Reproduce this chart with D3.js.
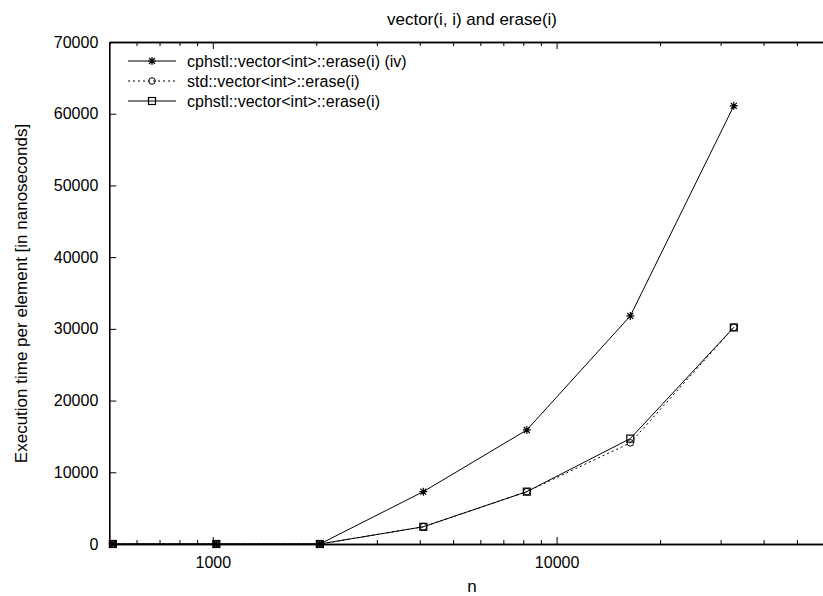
<!DOCTYPE html>
<html>
<head>
<meta charset="utf-8">
<script src="https://cdn.jsdelivr.net/npm/d3@7"></script>
<style>
  body { margin: 0; background: #fff; }
  text { font-family: "Liberation Sans", Arial, sans-serif; font-size: 16px; fill: #000; }
</style>
</head>
<body>
<script>
// values
const nValues = [512, 1024, 2048, 4096, 8192, 16384, 32768];
const cphstlIv = [0, 0, 0, 7300, 15900, 31800, 61100];
const stdErase = [0, 0, 0, 2400, 7300, 14100, 30200];
const cphstlErase = [0, 0, 0, 2400, 7300, 14700, 30200];
const seriesNames = ["cphstl::vector<int>::erase(i) (iv)", "std::vector<int>::erase(i)", "cphstl::vector<int>::erase(i)"];
const xMajorTicks = [1000, 10000];
const xMinorTicks = [500, 600, 700, 800, 900, 2000, 3000, 4000, 5000, 6000, 7000, 8000, 9000, 20000, 30000, 40000, 50000, 60000];
const yTicks = [0, 10000, 20000, 30000, 40000, 50000, 60000, 70000];

const width = 823, height = 596;
const svg = d3.select("body").append("svg")
    .attr("width", width)
    .attr("height", height);

const x = d3.scaleLog().domain([500, 65536]).range([109.3, 837.3]);
const y = d3.scaleLinear().domain([0, 70000]).range([544, 42]);

// bottom axis
const bottomAxis = svg.append("g").attr("transform", `translate(0,${y(0)})`);
bottomAxis.call(d3.axisBottom(x).tickValues(xMinorTicks).tickFormat("").tickSizeInner(-4).tickSizeOuter(0));
bottomAxis.append("g").call(d3.axisBottom(x).tickValues(xMajorTicks).tickFormat(d3.format("d")).tickSizeInner(-7).tickSizeOuter(0).tickPadding(13));

// top axis (mirror ticks)
const topAxis = svg.append("g").attr("transform", `translate(0,${y(70000)})`);
topAxis.call(d3.axisTop(x).tickValues(xMinorTicks).tickFormat("").tickSizeInner(-4).tickSizeOuter(0));
topAxis.append("g").call(d3.axisTop(x).tickValues(xMajorTicks).tickFormat("").tickSizeInner(-7).tickSizeOuter(0));

// left axis
const leftAxis = svg.append("g").attr("transform", `translate(${x(500)},0)`);
leftAxis.call(d3.axisLeft(y).tickValues(yTicks).tickFormat(d3.format("d")).tickSizeInner(-7).tickSizeOuter(0).tickPadding(11));

svg.selectAll(".domain").attr("stroke", "#000").attr("stroke-width", 1.6);
svg.selectAll(".tick line").attr("stroke", "#000").attr("stroke-width", 1);
svg.selectAll(".tick text").style("font-size", "16px").attr("font-family", null);

// titles
svg.append("text")
    .attr("x", 472).attr("y", 25)
    .attr("text-anchor", "middle")
    .style("font-size", "17px")
    .text("vector(i, i) and erase(i)");
svg.append("text")
    .attr("x", 472).attr("y", 592)
    .attr("text-anchor", "middle")
    .style("font-size", "17px")
    .text("n");
svg.append("text")
    .attr("transform", "translate(27,293.5) rotate(-90)")
    .attr("text-anchor", "middle")
    .style("font-size", "17px")
    .text("Execution time per element [in nanoseconds]");

// markers
const starPath = "M-4,0H4M0,-4V4M-3,-3L3,3M-3,3L3,-3";
function drawMarker(g, kind) {
  if (kind === "star") {
    g.append("path").attr("d", starPath).attr("stroke", "#000").attr("stroke-width", 1.2).attr("fill", "none");
  } else if (kind === "circle") {
    g.append("circle").attr("r", 3.3).attr("stroke", "#000").attr("stroke-width", 1).attr("fill", "none");
  } else {
    g.append("rect").attr("x", -3.5).attr("y", -3.5).attr("width", 7).attr("height", 7)
        .attr("stroke", "#000").attr("stroke-width", 1.2).attr("fill", "none");
  }
}

const series = [
  {name: seriesNames[0], values: cphstlIv, marker: "star", dash: null},
  {name: seriesNames[1], values: stdErase, marker: "circle", dash: "2,3"},
  {name: seriesNames[2], values: cphstlErase, marker: "square", dash: null}
];

const line = d3.line()
    .x(d => x(d.n))
    .y(d => y(d.v));

series.forEach((s, si) => {
  const pts = nValues.map((n, i) => ({n: n, v: s.values[i]}));
  svg.append("path")
      .attr("d", line(pts))
      .attr("fill", "none")
      .attr("stroke", "#000")
      .attr("stroke-width", 1)
      .attr("stroke-dasharray", s.dash);
  pts.forEach(p => {
    const g = svg.append("g").attr("transform", `translate(${x(p.n)},${y(p.v)})`);
    drawMarker(g, s.marker);
  });

  // legend row
  const ly = 61 + si * 20;
  svg.append("line")
      .attr("x1", 128).attr("x2", 176).attr("y1", ly).attr("y2", ly)
      .attr("stroke", "#000").attr("stroke-width", 1)
      .attr("stroke-dasharray", s.dash);
  const lg = svg.append("g").attr("transform", `translate(152,${ly})`);
  drawMarker(lg, s.marker);
  svg.append("text")
      .attr("x", 187).attr("y", ly).attr("dy", "0.35em")
      .text(s.name);
});
</script>
</body>
</html>
